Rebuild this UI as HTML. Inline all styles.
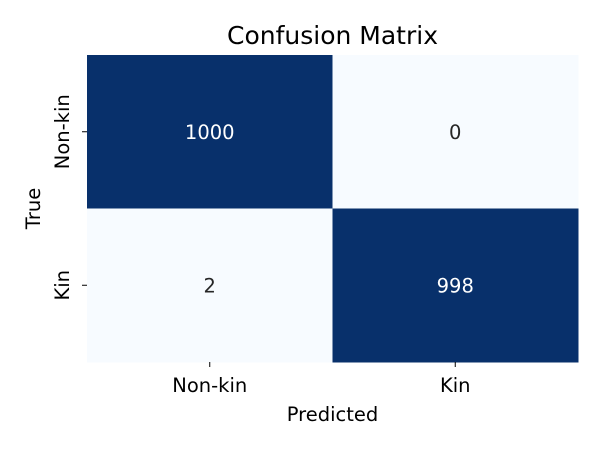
<!DOCTYPE html>
<html><head><meta charset="utf-8"><style>
body{margin:0;background:#fff;}
svg text{font-family:"DejaVu Sans","Liberation Sans",sans-serif;}
</style></head><body>
<svg id="chart" width="600" height="450" viewBox="0 0 600 450">
<rect width="600" height="450" fill="#fff"/>
<text x="332.5" y="44" font-size="25" text-anchor="middle" fill="#000">Confusion Matrix</text>
<g id="cells"></g>
<g id="axes"></g>
<text x="332.5" y="421" font-size="19.5" text-anchor="middle">Predicted</text>
<text transform="translate(40,208.5) rotate(-90)" font-size="19.5" text-anchor="middle">True</text>
</svg>
<script>
const labels = ["Non-kin","Kin"];
const row0 = [1000, 0];
const row1 = [2, 998];
const matrix = [row0, row1];

const plotLeft=87, plotRight=578, plotTop=55, plotBottom=362;
const nCats = labels.length;
const cw=(plotRight-plotLeft)/nCats, ch=(plotBottom-plotTop)/nCats;
let vmax=-Infinity, vmin=Infinity;
for (const r of matrix) for (const v of r){ if(v>vmax)vmax=v; if(v<vmin)vmin=v; }
function lerpC(a,b,t){return Math.round(a+(b-a)*t);}
function colorOf(v){
  const t=(v-vmin)/((vmax-vmin)||1);
  const c0=[247,251,255], c1=[8,48,107];
  return 'rgb('+lerpC(c0[0],c1[0],t)+','+lerpC(c0[1],c1[1],t)+','+lerpC(c0[2],c1[2],t)+')';
}
const SVGNS="http://www.w3.org/2000/svg";
const cellsG=document.getElementById('cells');
const axesG=document.getElementById('axes');
matrix.forEach(function(row,i){ row.forEach(function(v,j){
  const r=document.createElementNS(SVGNS,'rect');
  r.setAttribute('x',plotLeft+j*cw); r.setAttribute('y',plotTop+i*ch);
  r.setAttribute('width',cw+0.5); r.setAttribute('height',ch+0.5);
  r.setAttribute('fill',colorOf(v));
  
  
  cellsG.appendChild(r);
  const t=document.createElementNS(SVGNS,'text');
  t.setAttribute('x',plotLeft+(j+0.5)*cw); t.setAttribute('y',plotTop+(i+0.5)*ch+7);
  t.setAttribute('font-size','19.5'); t.setAttribute('text-anchor','middle');
  const tt=(v-vmin)/((vmax-vmin)||1);
  t.setAttribute('fill',tt>0.5?'#fff':'#262626');
  t.textContent=v;
  
  
  cellsG.appendChild(t);
});});
labels.forEach(function(lab,k){
  const x=plotLeft+(k+0.5)*cw;
  const l=document.createElementNS(SVGNS,'line');
  l.setAttribute('x1',x);l.setAttribute('x2',x);l.setAttribute('y1',plotBottom);l.setAttribute('y2',plotBottom+5);
  l.setAttribute('stroke','#000');
  
  
  axesG.appendChild(l);
  const t=document.createElementNS(SVGNS,'text');
  t.setAttribute('x',x);t.setAttribute('y',plotBottom+30);t.setAttribute('font-size','19.5');t.setAttribute('text-anchor','middle');
  t.textContent=lab;
  
  
  axesG.appendChild(t);
  const y=plotTop+(k+0.5)*ch;
  const l2=document.createElementNS(SVGNS,'line');
  l2.setAttribute('x1',plotLeft-5);l2.setAttribute('x2',plotLeft);l2.setAttribute('y1',y);l2.setAttribute('y2',y);
  l2.setAttribute('stroke','#000');
  
  
  axesG.appendChild(l2);
  const t2=document.createElementNS(SVGNS,'text');
  t2.setAttribute('transform','translate('+(plotLeft-18)+','+y+') rotate(-90)');
  t2.setAttribute('font-size','19.5');t2.setAttribute('text-anchor','middle');
  t2.textContent=lab;
  
  
  axesG.appendChild(t2);
});
</script>
</body></html>
